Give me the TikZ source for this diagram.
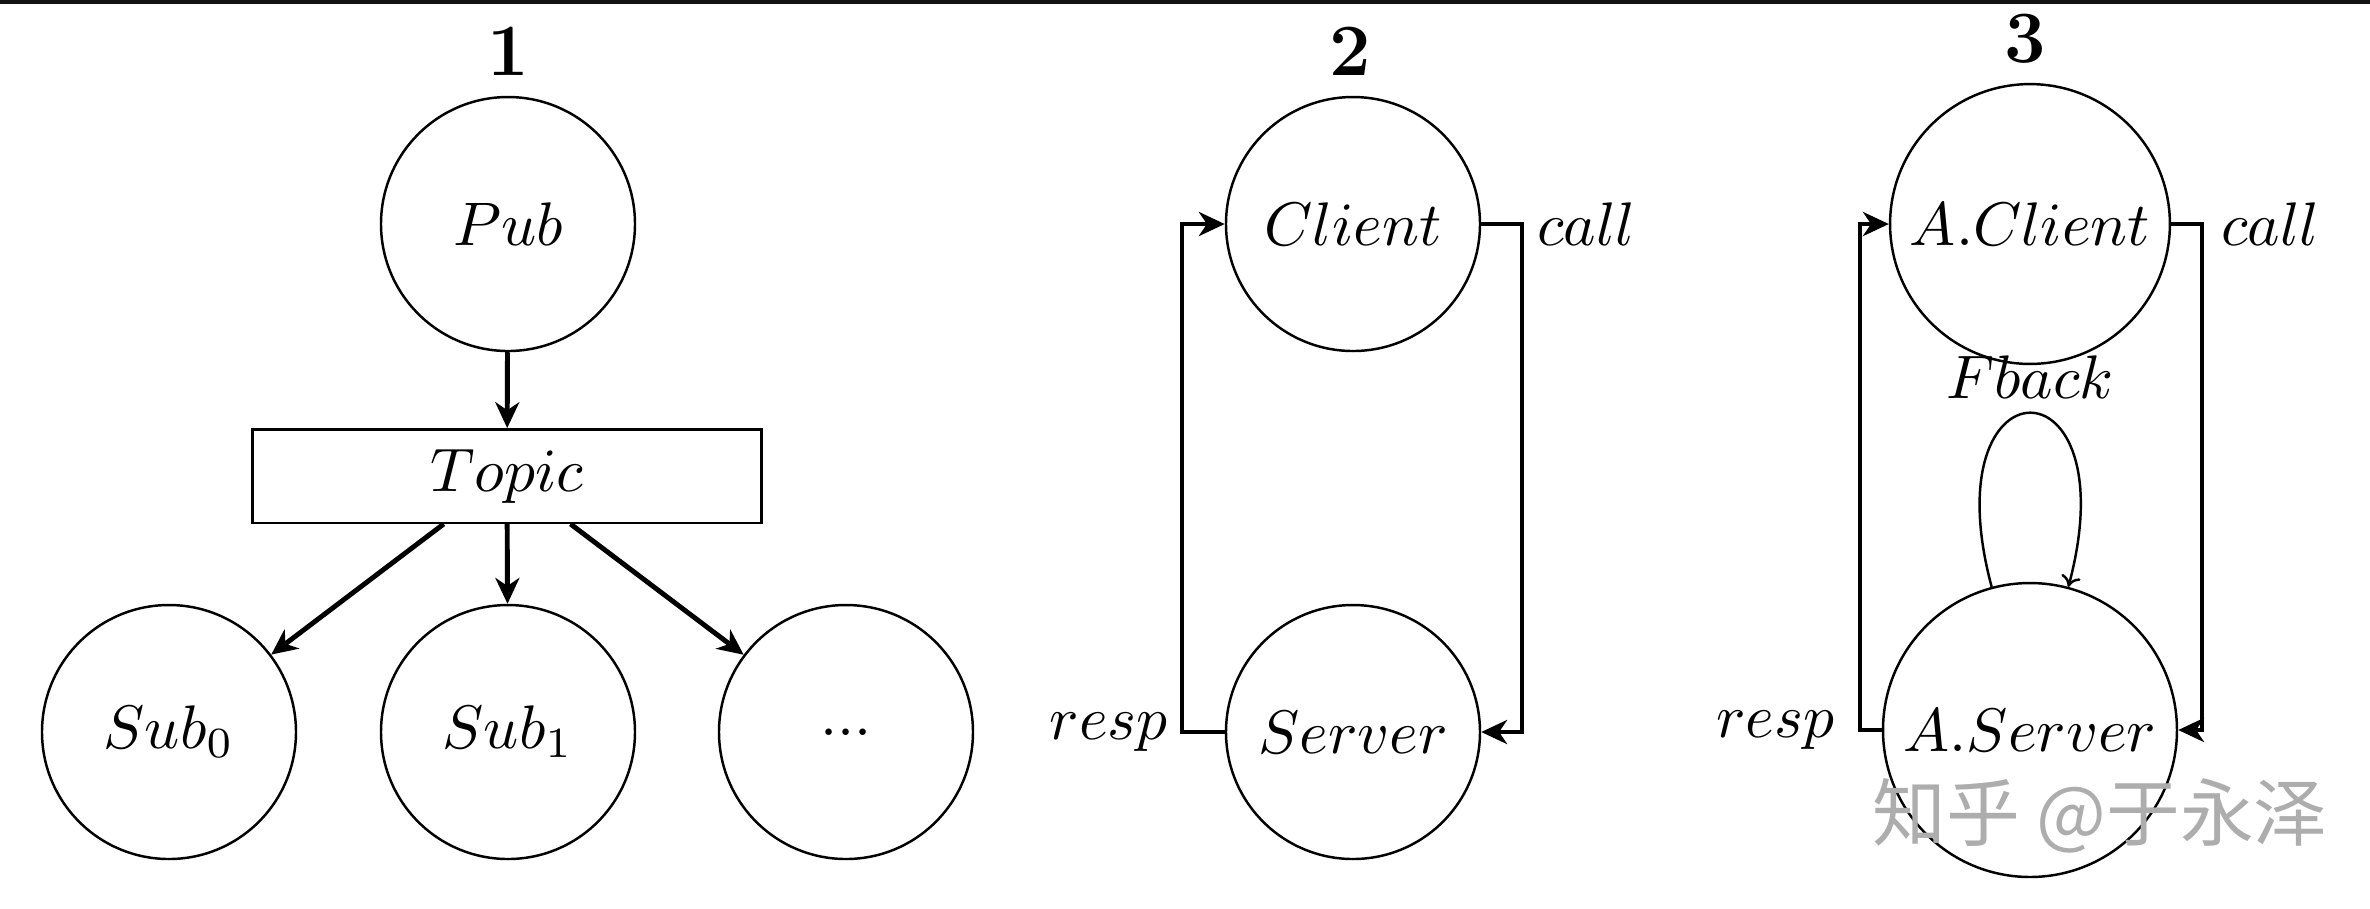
\documentclass[tikz,border=0pt]{standalone}
\usepackage{fontspec}
\newfontfamily\cjkwm{Noto Sans CJK SC}
\usetikzlibrary{arrows.meta}
\begin{document}
\begin{tikzpicture}[x=0.1626pt,y=0.1626pt,
  st/.style={circle,draw,line width=0.4pt,inner sep=0pt,minimum size=41.3pt},
  box/.style={rectangle,draw,line width=0.4pt,inner sep=0pt,minimum width=82.8pt,minimum height=15.2pt},
  flow/.style={line width=0.8pt,-{Stealth[length=4.2pt,width=3.9pt,inset=1.3pt]}},
  selfloop/.style={line width=0.4pt,-{To[length=1.8pt,width=3.2pt]}},
  ttl/.style={anchor=base,font=\large\bfseries,inner sep=0pt},
  lbl/.style={inner sep=0pt}]
\useasboundingbox (0,0) rectangle (2370,-908);
\fill[black!93] (0,0) rectangle (2370,-4);

% panel 1
\node[st] (pub) at (508,-224) {$Pub$};
\node[box] (topic) at (507,-476) {$Topic$};
\node[st] (sub0) at (169,-732) {$Sub_0$};
\node[st] (sub1) at (508,-732) {$Sub_1$};
\node[st] (subn) at (846,-732) {$...$};
\node[ttl] (t1) at (508,-75) {1};
\draw[flow] (pub) -- (topic);
\draw[flow] (topic) -- (sub0);
\draw[flow] (topic) -- (sub1);
\draw[flow] (topic) -- (subn);

% panel 2
\node[st] (client) at (1353,-224) {$Client$};
\node[st] (server) at (1353,-732) {$Server$};
\node[ttl] (t2) at (1350,-75) {2};
\coordinate (c2r) at (1522,-224);
\coordinate (c2l) at (1182,-732);
\draw[flow] (client.east) -- (c2r) |- (server.east);
\draw[flow] (server.west) -- (c2l) |- (client.west);
\node[lbl,anchor=west] (call2) at ([xshift=2.3pt]c2r) {$call$};
\node[lbl,anchor=east] (resp2) at ([xshift=-2.1pt]c2l) {$resp$};

% panel 3
\node[st,minimum size=45.5pt] (aclient) at (2030,-224) {$A.Client$};
\node[st,minimum size=47.8pt] (aserver) at (2030,-730) {$A.Server$};
\node[ttl] (t3) at (2025,-62) {3};
\coordinate (c3r) at (2202,-224);
\coordinate (c3l) at (1860,-730);
\draw[flow] (aclient.east) -- (c3r) |- (aserver.east);
\draw[flow] (aserver.west) -- (c3l) |- (aclient.west);
\node[lbl,anchor=west] (call3) at ([xshift=2.9pt]c3r) {$call$};
\node[lbl,anchor=east] (resp3) at ([xshift=-4pt]c3l) {$resp$};
\draw[selfloop] (aserver.105) .. controls +(105:240) and +(75:240) .. (aserver.75)
  node[midway,above=2.2pt,inner sep=0pt] (fb) {$Fback$};

% watermark
\node[inner sep=0pt,text=black!32,font=\cjkwm\fontsize{12}{12}\selectfont] (wm) at (2100,-816) {知乎 @于永泽};
\end{tikzpicture}
\end{document}
